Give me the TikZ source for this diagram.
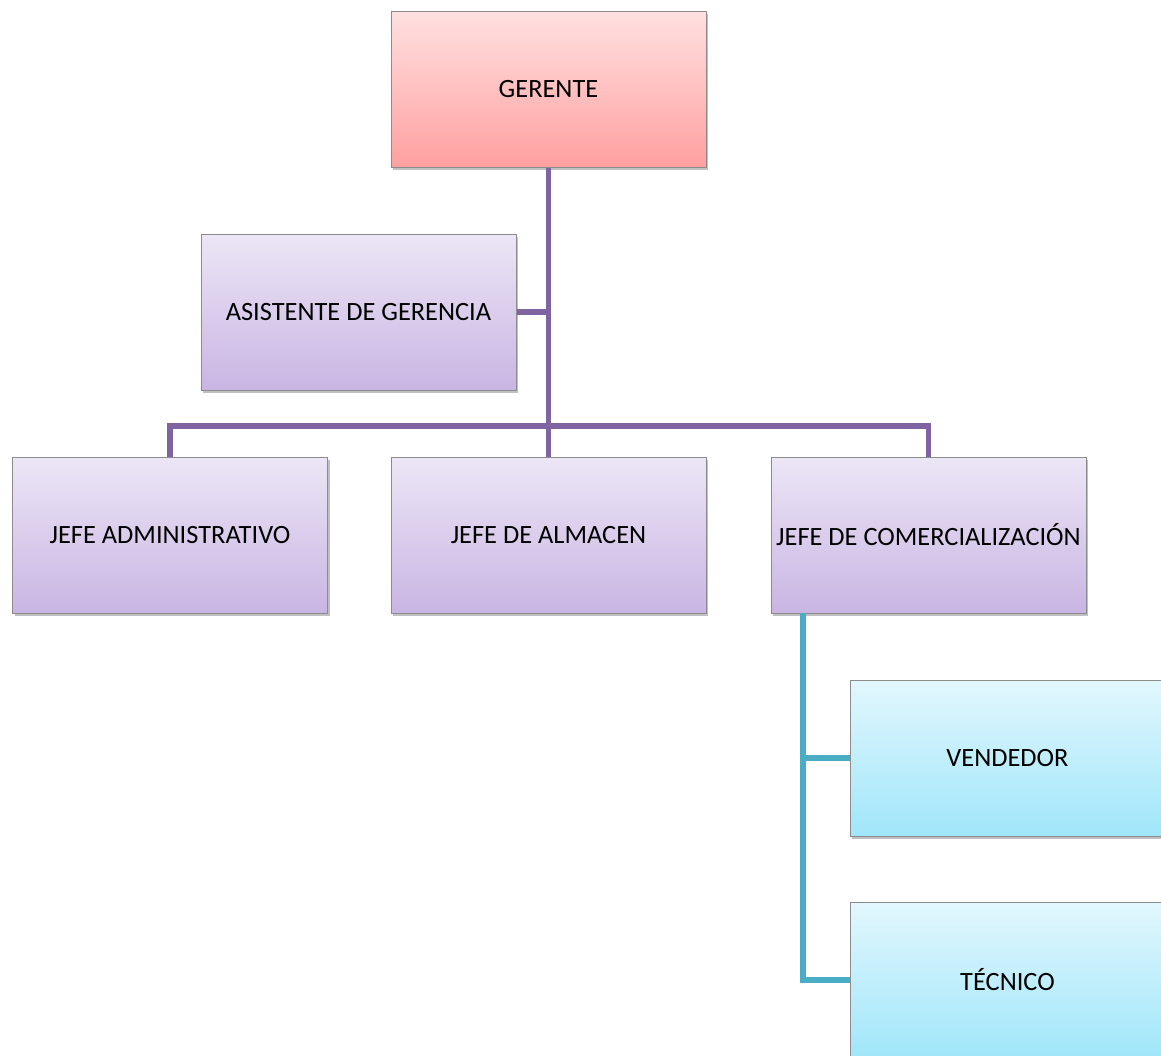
\documentclass[tikz,border=0pt]{standalone}
\usepackage{fontspec}
\setmainfont{Carlito}
\usetikzlibrary{shadows}
\definecolor{linkpurple}{HTML}{8064A2}
\definecolor{linkteal}{HTML}{4BACC6}
\tikzset{
  unit/.style={rectangle, draw=black!45, line width=0.5pt,
    minimum width=157.5pt, minimum height=78pt, inner sep=0pt,
    font=\fontsize{13.2}{15}\selectfont,
    drop shadow={shadow xshift=1pt, shadow yshift=-1.5pt, opacity=0.35, fill=black!70}},
  topbox/.style={unit, top color=red!12, bottom color={rgb,255:red,255;green,160;blue,160}},
  midbox/.style={unit, top color={rgb,255:red,236;green,230;blue,246}, bottom color={rgb,255:red,201;green,181;blue,227}},
  lowbox/.style={unit, top color={rgb,255:red,226;green,247;blue,253}, bottom color={rgb,255:red,160;green,230;blue,250}},
  plink/.style={draw=linkpurple, line width=2.6pt},
  tlink/.style={draw=linkteal, line width=2.6pt}
}
\begin{document}
\begin{tikzpicture}[x=0.5pt, y=-0.5pt]
  \useasboundingbox (0,0) rectangle (1161,1055);
  \clip (0,0) rectangle (1161,1055);
  \fill[white] (0,0) rectangle (1161,1055);

  % staff units
  \node[topbox] (ger) at (548.5,89) {GERENTE};
  \node[midbox] (asi) at (358.5,312) {ASISTENTE DE GERENCIA};
  \node[midbox] (adm) at (170,535) {JEFE ADMINISTRATIVO};
  \node[midbox] (alm) at (548.5,535) {JEFE DE ALMACEN};
  \node[midbox] (com) at (928.5,535) {JEFE DE COMERCIALIZACIÓN};
  \node[lowbox] (ven) at (1007.5,758) {VENDEDOR};
  \node[lowbox] (tec) at (1007.5,980) {TÉCNICO};

  % reporting lines
  \coordinate (bar) at (548.5,426);
  \coordinate (drop) at (803,613);
  \draw[plink] (ger.south) -- (alm.north);
  \draw[plink] (asi.east) -- (asi.east -| ger.south);
  \draw[plink] (adm.north) |- (bar) -| (com.north);
  \draw[tlink] (drop) |- (tec.west);
  \draw[tlink] (ven.west) -- (ven.west -| drop);
\end{tikzpicture}
\end{document}
